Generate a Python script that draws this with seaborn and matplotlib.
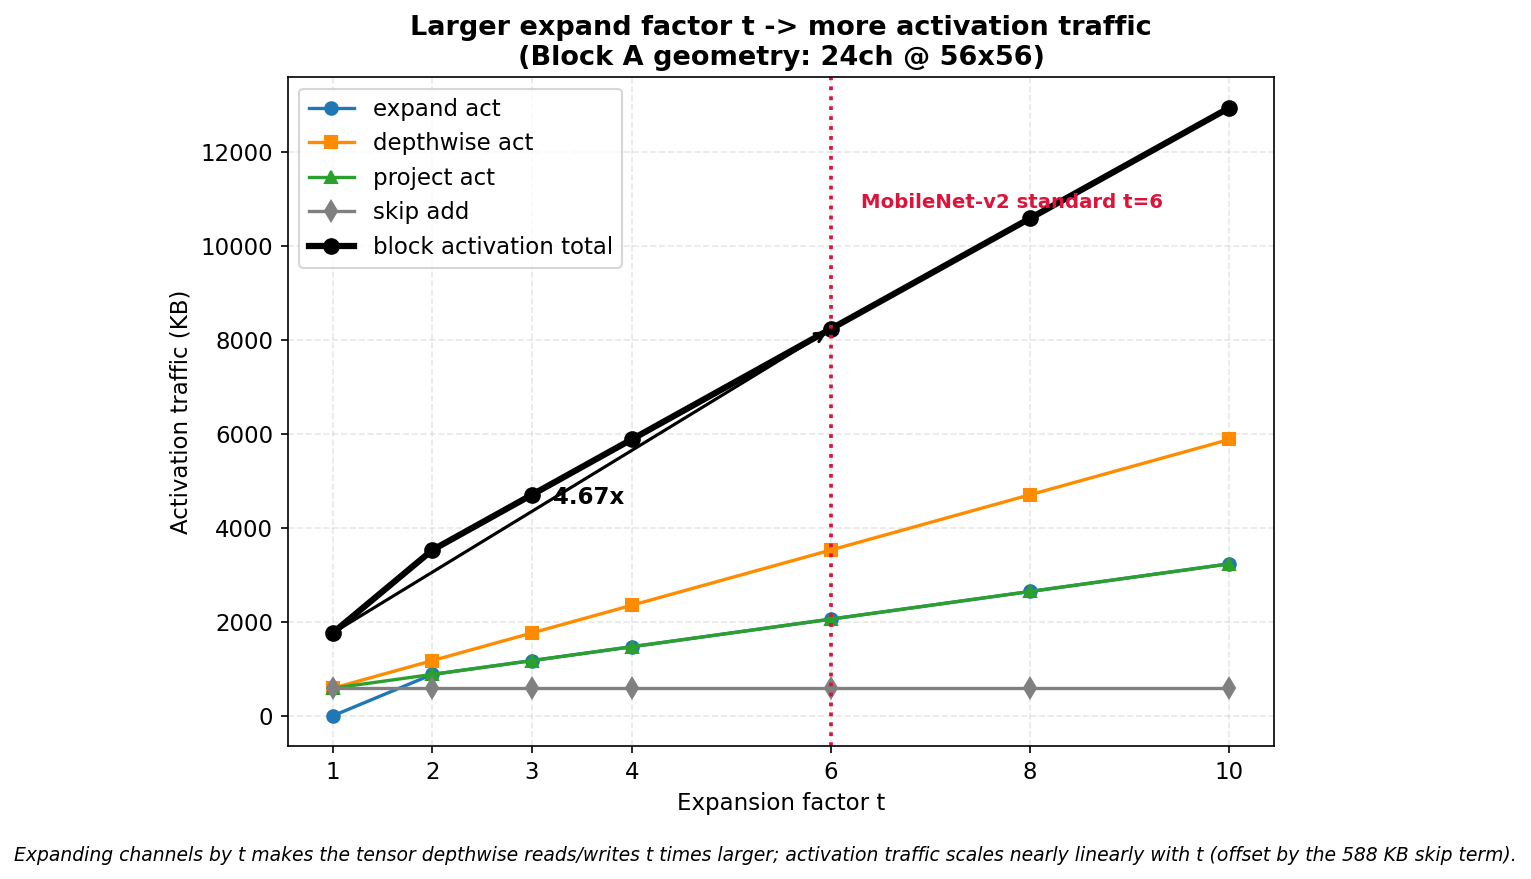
import numpy as np
import pandas as pd
import matplotlib
matplotlib.use("Agg")
import matplotlib.pyplot as plt
import seaborn as sns

# expansion factors and activation traffic per stage (KB)
t_values = [1, 2, 3, 4, 6, 8, 10]
expand_act = [0, 882, 1176, 1470, 2058, 2646, 3234]
depthwise_act = [588, 1176, 1764, 2352, 3528, 4704, 5880]
project_act = [588, 882, 1176, 1470, 2058, 2646, 3234]
skip_add = [588, 588, 588, 588, 588, 588, 588]
block_total = [1764, 3528, 4704, 5880, 8232, 10584, 12936]

plt.rcParams["font.family"] = ["DejaVu Sans"]
plt.rcParams["font.size"] = 11

df = pd.DataFrame({
    "t": t_values,
    "expand act": expand_act,
    "depthwise act": depthwise_act,
    "project act": project_act,
    "skip add": skip_add,
    "block activation total": block_total,
})

fig, ax = plt.subplots(figsize=(10.21, 5.86), dpi=150)
fig.subplots_adjust(left=0.188, right=0.832, top=0.912, bottom=0.151)

styles = [
    ("expand act", "#1f77b4", "o", 1.6, 6),
    ("depthwise act", "darkorange", "s", 1.6, 6),
    ("project act", "#2ca02c", "^", 1.6, 6),
    ("skip add", "gray", "d", 1.6, 7),
    ("block activation total", "black", "o", 3.0, 7),
]
for name, color, marker, lw, ms in styles:
    sns.lineplot(data=df, x="t", y=name, ax=ax, color=color, marker=marker,
                 linewidth=lw, markersize=ms, markeredgecolor=color,
                 markeredgewidth=1, label=name)

ax.axvline(6, color="crimson", linestyle=":", linewidth=1.8)
ax.text(6.3, block_total[5] + 330, "MobileNet-v2 standard t=6", color="crimson",
        fontsize=9.5, fontweight="bold", va="center")

ratio = block_total[4] / block_total[0]
ax.annotate("", xy=(6, block_total[4]), xytext=(1, block_total[0]),
            arrowprops=dict(arrowstyle="->", color="black", lw=1.5))
ax.text(3.21, 4640, f"{ratio:.2f}x", fontsize=11, fontweight="bold", va="center")

ax.set_xticks(t_values)
ax.set_xlabel("Expansion factor t")
ax.set_ylabel("Activation traffic (KB)")
ax.set_title("Larger expand factor t -> more activation traffic\n(Block A geometry: 24ch @ 56x56)",
             fontsize=13, fontweight="bold")
ax.grid(True, linestyle="--", alpha=0.3)
ax.legend(loc="upper left", fontsize=11)

fig.text(0.5, 0.02, "Expanding channels by t makes the tensor depthwise reads/writes t times larger; "
         "activation traffic scales nearly linearly with t (offset by the 588 KB skip term).",
         ha="center", fontsize=9, style="italic")

fig.savefig("out.png", dpi=150)
